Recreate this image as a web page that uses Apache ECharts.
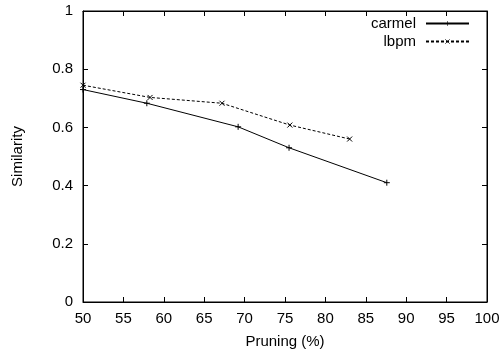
<!DOCTYPE html>
<html><head><meta charset="utf-8">
<script src="https://cdn.jsdelivr.net/npm/echarts@6/dist/echarts.min.js"></script>
<style>html,body{margin:0;padding:0;background:#fff}#c{width:503px;height:354px}</style>
</head><body><div id="c"></div>
<script>
const carmelX = [50, 57.9, 69.2, 75.5, 87.6];
const carmelY = [0.73, 0.683, 0.602, 0.530, 0.410];
const lbpmX = [50, 58.3, 67.2, 75.6, 83.0];
const lbpmY = [0.745, 0.703, 0.683, 0.608, 0.560];
const xTicks = [50,55,60,65,70,75,80,85,90,95,100];
const yTicks = [0,0.2,0.4,0.6,0.8,1];

const font = 'Liberation Sans, Arial, sans-serif';
const fs = 15;
const plus = 'path://M0,5L10,5M5,0L5,10';
const cross = 'path://M0,0L10,10M0,10L10,0';
const chart = echarts.init(document.getElementById('c'));
const tick = {show:true, inside:true, length:5, lineStyle:{color:'#000', width:1}};
const line = {show:true, onZero:false, lineStyle:{color:'#000', width:1}};
chart.setOption({
  animation:false,
  grid:{left:83, right:16, top:11, bottom:52, show:true, borderColor:'#000', borderWidth:1},
  legend:{
    orient:'vertical', right:28, top:11, align:'right', itemWidth:43, itemHeight:6, itemGap:3,
    textStyle:{fontFamily:font, fontSize:fs, color:'#000', padding:[0,5,0,0]},
    itemStyle:{borderWidth:0.6},
    data:['carmel','lbpm']
  },
  xAxis:[{
    type:'value', min:50, max:100, interval:5, name:'Pruning (%)', nameLocation:'middle', nameGap:32,
    nameTextStyle:{fontFamily:font, fontSize:fs, color:'#000'},
    axisLine:line, axisTick:tick, splitLine:{show:false},
    axisLabel:{fontFamily:font, fontSize:fs, color:'#000', margin:9, showMinLabel:true, showMaxLabel:true,
      customValues:xTicks}
  },{
    type:'value', min:50, max:100, interval:5, position:'top',
    axisLine:line, axisTick:tick, splitLine:{show:false}, axisLabel:{show:false}
  }],
  yAxis:[{
    type:'value', min:0, max:1, interval:0.2, name:'Similarity', nameLocation:'middle', nameGap:58,
    nameTextStyle:{fontFamily:font, fontSize:fs, color:'#000'},
    axisLine:line, axisTick:tick, splitLine:{show:false},
    axisLabel:{fontFamily:font, fontSize:fs, color:'#000', margin:10, customValues:yTicks,
      formatter:v=>String(Math.round(v*10)/10)}
  },{
    type:'value', min:0, max:1, interval:0.2, position:'right',
    axisLine:line, axisTick:tick, splitLine:{show:false}, axisLabel:{show:false}
  }],
  series:[{
    name:'carmel', type:'line', xAxisIndex:0, yAxisIndex:0, data:carmelX.map((x,i)=>[x,carmelY[i]]),
    symbol:plus, symbolSize:6, showAllSymbol:true,
    lineStyle:{color:'#000', width:1, type:'solid'},
    itemStyle:{color:'transparent', borderColor:'#000', borderWidth:1}
  },{
    name:'lbpm', type:'line', xAxisIndex:1, yAxisIndex:1, data:lbpmX.map((x,i)=>[x,lbpmY[i]]),
    symbol:cross, symbolSize:5, showAllSymbol:true,
    lineStyle:{color:'#000', width:1, type:[3,2]},
    itemStyle:{color:'transparent', borderColor:'#000', borderWidth:1}
  }]
});
</script></body></html>
